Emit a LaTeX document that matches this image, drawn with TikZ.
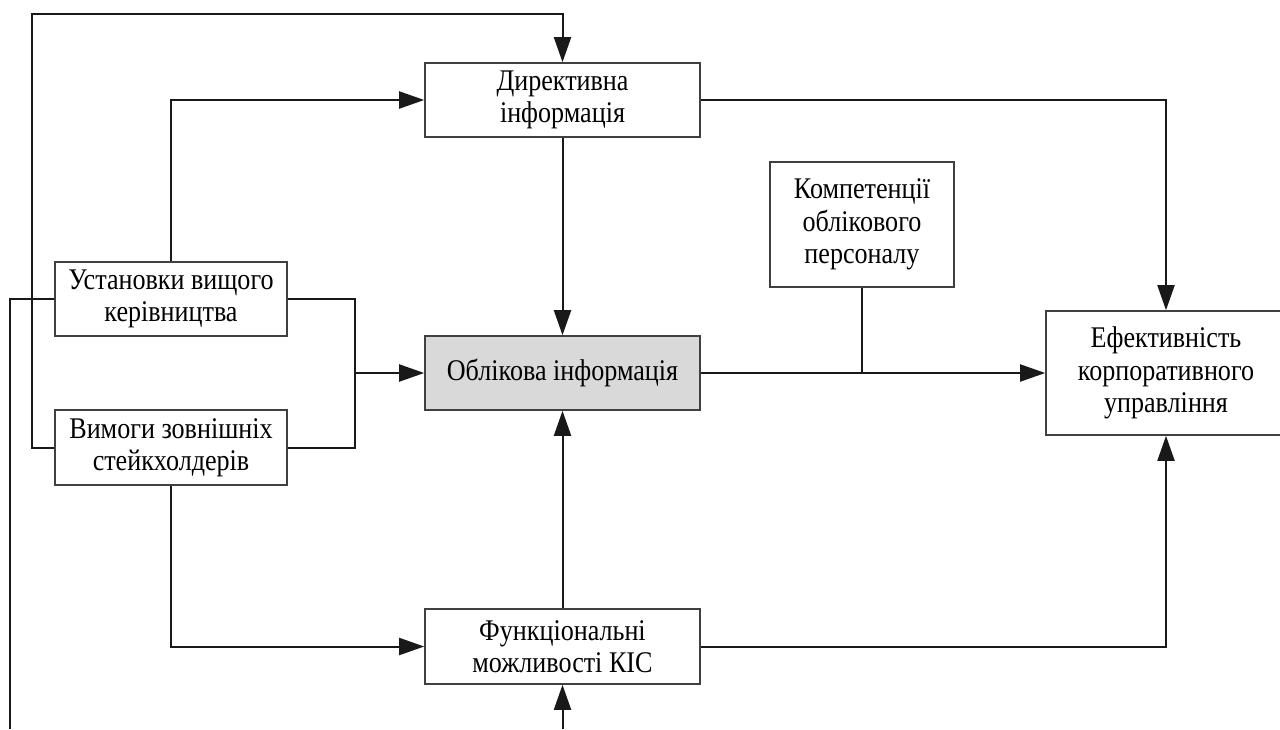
\documentclass[tikz,border=0pt]{standalone}
\usepackage{fontspec}
\setmainfont[FakeStretch=0.87]{Liberation Serif}
\usetikzlibrary{arrows.meta}

\tikzset{
    box/.style={draw=black!75, line width=0.8pt, fill=white, align=center,
        inner sep=2pt, font=\fontsize{15}{16.2}\selectfont},
    link/.style={line width=1pt, draw=black!90},
    arr/.style={link, -{Triangle[length=12.5pt,width=8.5pt]}}
}

\begin{document}
\begin{tikzpicture}[x=0.5pt, y=-0.5pt]
    % Fix the page size
    \useasboundingbox (0,0) rectangle (1280,729);

    % Boxes
    \node[box, minimum width=137.5pt, minimum height=37pt] (dir) at (562.5,100) {Директивна\\інформація};
    \node[box, minimum width=116pt, minimum height=37pt] (ust) at (171,299) {Установки вищого\\керівництва};
    \node[box, minimum width=116pt, minimum height=37.5pt] (vym) at (171,447.5) {Вимоги зовнішніх\\стейкхолдерів};
    \node[box, fill=black!15, minimum width=137.5pt, minimum height=37pt] (obl) at (562.5,373) {Облікова інформація};
    \node[box, minimum width=92pt, minimum height=62.5pt] (komp) at (862,224.5) {Компетенції\\облікового\\персоналу};
    \node[box, minimum width=120pt, minimum height=62pt] (efek) at (1166,373) {Ефективність\\корпоративного\\управління};
    \node[box, minimum width=137.5pt, minimum height=37.5pt] (fun) at (562.5,646.5) {Функціональні\\можливості КІС};

    % Free ends and junctions
    \coordinate (join) at (355,373);
    \coordinate (topL) at (32,14);
    \coordinate (botL) at (10,729);
    \coordinate (botC) at (562.5,729);

    % Left side connectors
    \draw[arr] (vym.west) -| (topL) -| (dir.north);
    \draw[link] (ust.west) -| (botL);
    \draw[arr] (ust.north) |- (dir.west);
    \draw[link] (ust.east) -| (join);
    \draw[link] (vym.east) -| (join);
    \draw[arr] (join) -- (obl.west);
    \draw[arr] (vym.south) |- (fun.west);

    % Middle connectors
    \draw[arr] (dir.south) -- (obl.north);
    \draw[arr] (fun.north) -- (obl.south);
    \draw[arr] (botC) -- (fun.south);

    % Right side connectors
    \draw[arr] (dir.east) -| (efek.north);
    \draw[arr] (obl.east) -- (efek.west);
    \draw[link] (komp.south) -- (komp.south |- obl.east);
    \draw[arr] (fun.east) -| (efek.south);
\end{tikzpicture}
\end{document}
